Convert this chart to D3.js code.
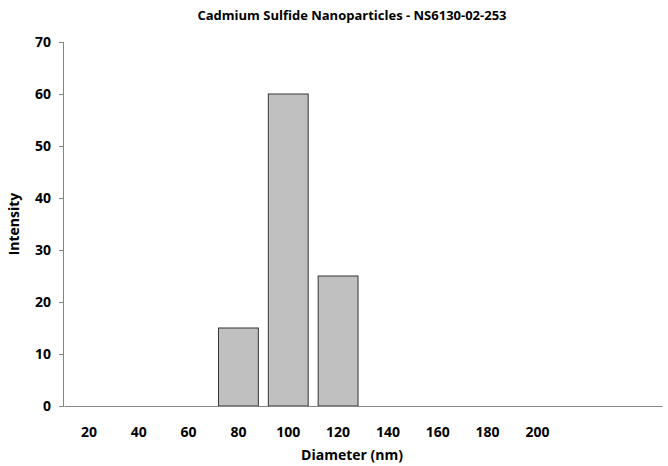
<!DOCTYPE html>
<html><head><meta charset="utf-8">
<script src="https://cdn.jsdelivr.net/npm/d3@7"></script>
<style>body{margin:0;background:#fff}text{font-family:"Open Sans",sans-serif;font-weight:bold}</style>
</head><body><div id="chart"></div>
<script>
const categories = [20, 40, 60, 80, 100, 120, 140, 160, 180, 200, 220, 240];
const tickLabels = ['20','40','60','80','100','120','140','160','180','200','',''];
const intensity = [0, 0, 0, 15, 60, 25, 0, 0, 0, 0, 0, 0];
const yTicks = [0, 10, 20, 30, 40, 50, 60, 70];

const width = 668, height = 466;
const margin = {top: 42, right: 6, bottom: 60, left: 64};

const svg = d3.select('#chart').append('svg')
    .attr('width', width).attr('height', height);

const x = d3.scaleBand()
    .domain(categories)
    .range([margin.left, width - margin.right])
    .paddingInner(0.2).paddingOuter(0.1);

const y = d3.scaleLinear()
    .domain([0, 70])
    .range([height - margin.bottom, margin.top]);

svg.selectAll('.bar')
    .data(categories.map((c, i) => ({c, v: intensity[i]})).filter(d => d.v > 0))
    .enter().append('rect')
    .attr('x', d => x(d.c))
    .attr('y', d => y(d.v))
    .attr('width', x.bandwidth())
    .attr('height', d => y(0) - y(d.v))
    .attr('fill', '#c0c0c0')
    .attr('stroke', '#333')
    .attr('stroke-width', 1);

const yAxis = svg.append('g')
    .attr('transform', `translate(${margin.left},0)`)
    .call(d3.axisLeft(y).tickValues(yTicks).tickSize(5).tickPadding(8));
yAxis.selectAll('path,line').attr('stroke', '#868686');
yAxis.selectAll('text').attr('font-size', 14).attr('fill', '#000')
    .attr('font-family', '"Open Sans",sans-serif');
yAxis.select('.domain').attr('d', `M-0.5,${y(70)}V${y(0)}`);

const xAxis = svg.append('g')
    .attr('transform', `translate(0,${y(0)})`)
    .call(d3.axisBottom(x).tickFormat((d, i) => tickLabels[i]).tickSize(0).tickPadding(21));
xAxis.select('.domain').attr('stroke', '#868686');
xAxis.selectAll('text').attr('font-size', 14).attr('fill', '#000')
    .attr('font-family', '"Open Sans",sans-serif');

svg.append('text').attr('x', 352).attr('y', 20).attr('text-anchor', 'middle')
    .attr('font-size', 13).text('Cadmium Sulfide Nanoparticles - NS6130-02-253');
svg.append('text').attr('x', 352).attr('y', 460).attr('text-anchor', 'middle')
    .attr('font-size', 14).text('Diameter (nm)');
svg.append('text').attr('transform', 'translate(19,224) rotate(-90)')
    .attr('text-anchor', 'middle').attr('font-size', 14).text('Intensity');
</script></body></html>
